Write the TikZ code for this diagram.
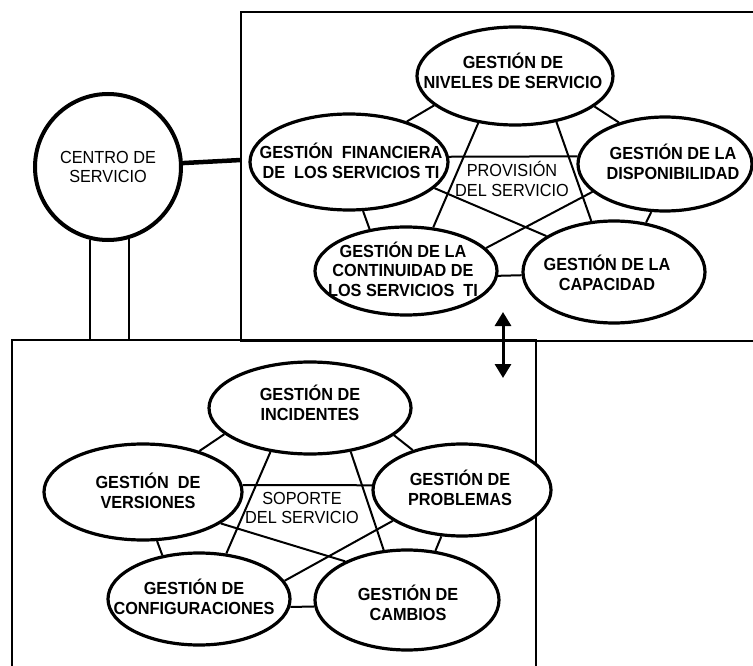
\documentclass[tikz,border=0pt]{standalone}
\usepackage{fontspec}
\setmainfont{Liberation Sans}[FakeStretch=0.93]
\usepackage{tikz}
\usetikzlibrary{positioning,arrows.meta,shapes.geometric}

\begin{document}
\begin{tikzpicture}[x=1pt,y=-1pt,
		gestion/.style={ellipse,draw,fill=white,line width=3.2pt,inner sep=0pt},
		rotulo/.style={align=center,font=\fontsize{17.5}{19.5}\selectfont\bfseries,inner sep=0pt},
		fino/.style={align=center,font=\fontsize{17.5}{19.5}\selectfont,inner sep=0pt},
		caja/.style={draw,line width=2.2pt,inner sep=0pt},
		linea/.style={line width=2pt},
		flecha/.style={{Triangle[width=16pt,length=14pt]}-{Triangle[width=16pt,length=14pt]},line width=3pt}]
		\useasboundingbox (0,0) rectangle (753,666);
		\clip (0,0) rectangle (753,666);

		%boxes
		\node[caja,minimum width=539,minimum height=329] (provbox) at (510.5,176.5) {};
		\node[caja,minimum width=524,minimum height=360] (sopbox) at (274,520) {};

		%service desk
		\node[circle,draw,fill=white,line width=4pt,minimum size=146,fino] (centro) at (108,167) {CENTRO DE\\SERVICIO};
		\coordinate (enlace) at (241,160);
		\draw[line width=4.5pt] (centro.3) -- (enlace);
		\draw[line width=2.3pt] (centro.256) -- (centro.256 |- sopbox.north);
		\draw[line width=2.3pt] (centro.286) -- (centro.286 |- sopbox.north);

		%top nodes
		\node[gestion,minimum width=196,minimum height=98] (niv) at (515,76) {};
		\node[gestion,minimum width=198,minimum height=96] (fin) at (349,162) {};
		\node[gestion,minimum width=174,minimum height=94] (disp) at (665,164) {};
		\node[gestion,minimum width=182,minimum height=88] (cont) at (406,271) {};
		\node[gestion,minimum width=182,minimum height=102] (cap) at (614,272) {};

		\node[rotulo] (niv-t) at (513,71) {GESTIÓN DE\\NIVELES DE SERVICIO};
		\node[rotulo] (fin-t) at (351,161) {GESTIÓN\ \ FINANCIERA\\DE\ \ LOS SERVICIOS TI};
		\node[rotulo] (disp-t) at (673,162) {GESTIÓN DE LA\\DISPONIBILIDAD};
		\node[rotulo] (cont-t) at (403,269) {GESTIÓN DE LA\\CONTINUIDAD DE\\LOS SERVICIOS\ \ TI};
		\node[rotulo] (cap-t) at (607,273) {GESTIÓN DE LA\\CAPACIDAD};
		\node[fino] (prov-t) at (512,179) {PROVISIÓN\\DEL SERVICIO};

		%top edges
		\draw[linea] (niv.200) -- (fin.35);
		\draw[linea] (niv.339) -- (disp.138);
		\draw[linea] (fin.286) -- (cont.131);
		\draw[linea] (disp.254) -- (cap.57);
		\draw[linea] (cont.357) -- (cap.182);
		\draw[linea] (niv.232) -- (cont.58);
		\draw[linea] (niv.312) -- (cap.114);
		\draw[linea] (fin.3) -- (disp.175);
		\draw[linea] (fin.343) -- (cap.152);
		\draw[linea] (disp.201) -- (cont.16);

		%bottom nodes
		\node[gestion,minimum width=202,minimum height=92] (inc) at (310,408) {};
		\node[gestion,minimum width=198,minimum height=96] (ver) at (143,492) {};
		\node[gestion,minimum width=178,minimum height=92] (pro) at (462,490) {};
		\node[gestion,minimum width=182,minimum height=92] (conf) at (199,599) {};
		\node[gestion,minimum width=184,minimum height=100] (cam) at (407,600) {};

		\node[rotulo] (inc-t) at (310,403) {GESTIÓN DE\\INCIDENTES};
		\node[rotulo] (ver-t) at (148,491) {GESTIÓN\ \ DE\\VERSIONES};
		\node[rotulo] (pro-t) at (460,488) {GESTIÓN DE\\PROBLEMAS};
		\node[rotulo] (conf-t) at (194,597) {GESTIÓN DE\\CONFIGURACIONES};
		\node[rotulo] (cam-t) at (408,603) {GESTIÓN DE\\CAMBIOS};
		\node[fino] (sop-t) at (302,508) {SOPORTE\\DEL SERVICIO};

		%bottom edges
		\draw[linea] (inc.197) -- (ver.36);
		\draw[linea] (inc.342) -- (pro.141);
		\draw[linea] (ver.286) -- (conf.130);
		\draw[linea] (pro.246) -- (cam.60);
		\draw[linea] (conf.355) -- (cam.184);
		\draw[linea] (inc.228) -- (conf.59);
		\draw[linea] (inc.313) -- (cam.115);
		\draw[linea] (ver.4) -- (pro.177);
		\draw[linea] (ver.338) -- (cam.148);
		\draw[linea] (pro.204) -- (conf.12);

		%arrow between boxes
		\coordinate (flecha-a) at (503,312);
		\coordinate (flecha-b) at (503,378);
		\draw[flecha] (flecha-a) -- (flecha-b);
\end{tikzpicture}
\end{document}
